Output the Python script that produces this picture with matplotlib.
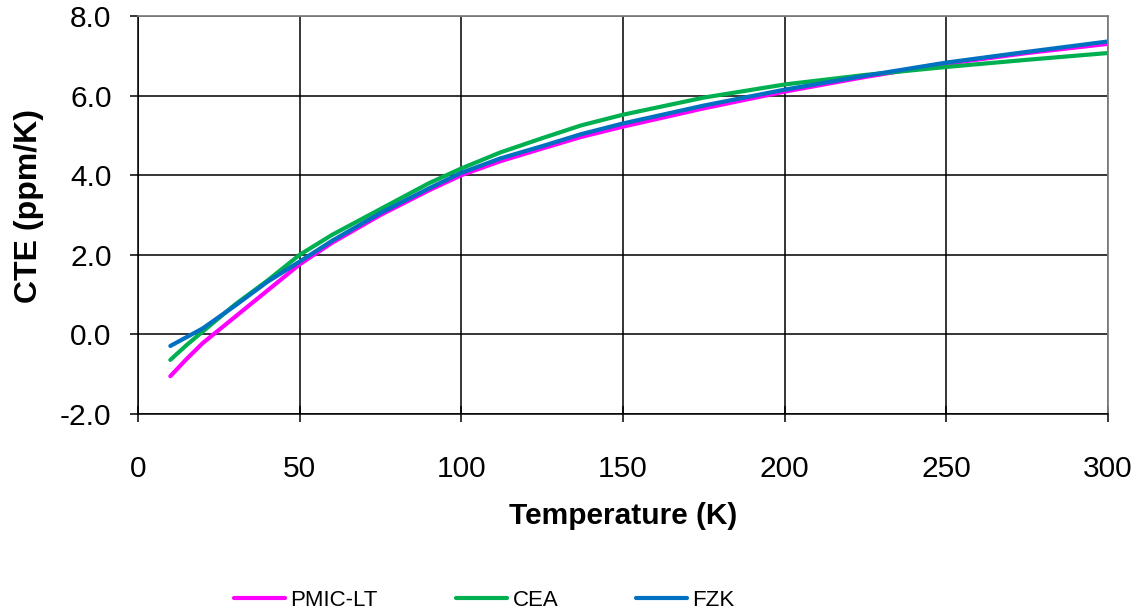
import numpy as np
import matplotlib
matplotlib.use("Agg")
import matplotlib.pyplot as plt

plt.rcParams['font.family'] = ['Liberation Sans', 'DejaVu Sans']

# temperatures (K) and CTE values (ppm/K)
temp = [10, 15, 20, 30, 40, 50, 60, 75, 90, 100, 112, 125, 137, 150, 175, 200, 225, 250, 275, 300]
pmic_lt = [-1.05, -0.62, -0.22, 0.44, 1.10, 1.76, 2.30, 3.00, 3.62, 4.00, 4.35, 4.67, 4.96, 5.22, 5.68, 6.10, 6.47, 6.80, 7.07, 7.30]
cea = [-0.64, -0.27, 0.07, 0.75, 1.35, 2.00, 2.50, 3.15, 3.80, 4.17, 4.57, 4.93, 5.25, 5.52, 5.95, 6.28, 6.52, 6.72, 6.90, 7.07]
fzk = [-0.29, -0.07, 0.15, 0.72, 1.32, 1.83, 2.35, 3.05, 3.67, 4.06, 4.42, 4.73, 5.03, 5.30, 5.75, 6.15, 6.50, 6.83, 7.10, 7.36]

xticks = [0, 50, 100, 150, 200, 250, 300]
yticks = [-2.0, 0.0, 2.0, 4.0, 6.0, 8.0]

fig = plt.figure(figsize=(11.41, 6.15), dpi=100)
ax = fig.add_axes([138/1141, 1-414/615, 970/1141, 398/615])

ax.plot(temp, pmic_lt, color='#FF00FF', lw=3, label='PMIC-LT', solid_capstyle='round', solid_joinstyle='round')
ax.plot(temp, cea, color='#00B050', lw=3, label='CEA', solid_capstyle='round', solid_joinstyle='round')
ax.plot(temp, fzk, color='#0070C0', lw=3, label='FZK', solid_capstyle='round', solid_joinstyle='round')

ax.set_xlim(0, 300)
ax.set_ylim(-2, 8)
ax.set_xticks(xticks)
ax.set_xticklabels([str(t) for t in xticks])
ax.set_yticks(yticks)
ax.set_yticklabels(['%.1f' % v for v in yticks])
ax.grid(True, color='black', lw=1.1)
ax.set_axisbelow(True)

for s in ['top', 'right']:
    ax.spines[s].set_color('#808080')
    ax.spines[s].set_linewidth(1.3)
for s in ['left', 'bottom']:
    ax.spines[s].set_color('black')
    ax.spines[s].set_linewidth(1.1)

ax.tick_params(axis='x', direction='inout', length=11, width=1.1, labelsize=21.5, pad=24)
ax.tick_params(axis='y', direction='out', length=6, width=1.1, labelsize=21.5, pad=13)

ax.set_xlabel('Temperature (K)', fontsize=21.5, fontweight='bold')
ax.xaxis.set_label_coords(0.5, -0.22)
ax.set_ylabel('CTE (ppm/K)', fontsize=23, fontweight='bold')
ax.yaxis.set_label_coords(-0.097, 0.523)

fig.legend(loc='center left', bbox_to_anchor=(225/1141, 15/615), ncol=3,
           frameon=False, fontsize=16, handlelength=2.3, handletextpad=0.25,
           columnspacing=3.5, borderaxespad=0)

fig.savefig('out.png', dpi=100)
